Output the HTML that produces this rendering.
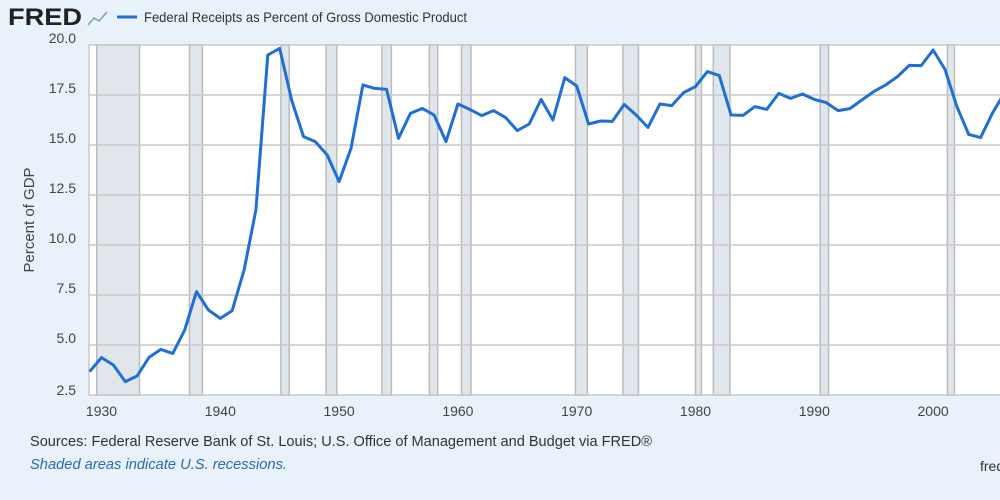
<!DOCTYPE html>
<html><head><meta charset="utf-8"><style>
body{margin:0;width:1000px;height:500px;overflow:hidden;background:#e9f1fa;font-family:"Liberation Sans Narrow","Liberation Sans",sans-serif;}
svg{position:absolute;left:0;top:0}
</style></head><body>
<svg width="1000" height="500">
<g id="rec"></g>
<g id="grid"></g>
<g id="axes"></g>
<path id="line" fill="none" stroke="#1e6fd6" stroke-width="3" stroke-linejoin="round"/>
<text x="8" y="25" font-family="Liberation Sans" font-weight="bold" font-size="24" fill="#222" textLength="74" lengthAdjust="spacingAndGlyphs">FRED</text>
<polyline points="88,25 94,18 99,21 107,12" fill="none" stroke="#7a9" stroke-width="1.5"/>
<line x1="117" y1="17" x2="137" y2="17" stroke="#1e6fd6" stroke-width="3"/>
<text x="144" y="22" font-size="14" fill="#333" textLength="323" lengthAdjust="spacingAndGlyphs">Federal Receipts as Percent of Gross Domestic Product</text>
<text transform="translate(34,220) rotate(-90)" text-anchor="middle" font-size="15" fill="#444">Percent of GDP</text>
<text x="30" y="446" font-size="15" fill="#333" textLength="622" lengthAdjust="spacingAndGlyphs">Sources: Federal Reserve Bank of St. Louis; U.S. Office of Management and Budget via FRED®</text>
<text x="30" y="469" font-size="15" font-style="italic" fill="#2a6bb5" textLength="257" lengthAdjust="spacingAndGlyphs">Shaded areas indicate U.S. recessions.</text>
<text x="980" y="471" font-size="14" fill="#333">fred</text>
</svg>
<script>
const years=[1929,1930,1931,1932,1933,1934,1935,1936,1937,1938,1939,1940,1941,1942,1943,1944,1945,1946,1947,1948,1949,1950,1951,1952,1953,1954,1955,1956,1957,1958,1959,1960,1961,1962,1963,1964,1965,1966,1967,1968,1969,1970,1971,1972,1973,1974,1975,1976,1977,1978,1979,1980,1981,1982,1983,1984,1985,1986,1987,1988,1989,1990,1991,1992,1993,1994,1995,1996,1997,1998,1999,2000,2001,2002,2003,2004,2005,2006];
const values=[3.67,4.37,4.0,3.17,3.45,4.38,4.78,4.58,5.75,7.67,6.75,6.33,6.72,8.75,11.75,19.5,19.83,17.25,15.42,15.17,14.5,13.17,14.83,18.0,17.83,17.78,15.33,16.58,16.83,16.5,15.17,17.05,16.78,16.47,16.72,16.38,15.72,16.05,17.28,16.25,18.37,17.95,16.05,16.2,16.18,17.03,16.5,15.88,17.05,16.97,17.62,17.92,18.67,18.47,16.5,16.48,16.92,16.78,17.58,17.33,17.55,17.28,17.12,16.72,16.82,17.25,17.67,18.0,18.42,18.98,18.97,19.75,18.78,16.92,15.53,15.37,16.6,17.6];
const recStart=[1929.6,1937.4,1945.1,1948.9,1953.6,1957.6,1960.3,1969.9,1973.9,1980.0,1981.5,1990.5,2001.2];
const recEnd=[1933.2,1938.5,1945.8,1949.8,1954.4,1958.3,1961.1,1970.9,1975.2,1980.5,1982.9,1991.2,2001.8];
const yTicks=[2.5,5.0,7.5,10.0,12.5,15.0,17.5,20.0];
const xTicks=[1930,1940,1950,1960,1970,1980,1990,2000];
const L=89,R=1000,T=45,B=395;
const xs=y=>101.5+(y-1930)*11.88;
const ys=v=>T+(20-v)*20;
const NS='http://www.w3.org/2000/svg';
function mk(tag,parent,attrs){const e=document.createElementNS(NS,tag);for(const k in attrs)e.setAttribute(k,attrs[k]);parent.appendChild(e);return e;}
const rec=document.getElementById('rec'),grid=document.getElementById('grid'),axes=document.getElementById('axes');
mk('rect',rec,{x:L,y:T,width:R-L,height:B-T,fill:'#fff'});
recStart.forEach((s,i)=>{const x1=Math.max(L,xs(s)),x2=xs(recEnd[i]);
const r=mk('rect',rec,{x:x1,y:T,width:x2-x1,height:B-T,fill:'#e1e6ec',stroke:'#bbb','stroke-width':1.5});

});
yTicks.forEach(v=>{mk('line',grid,{x1:L,x2:R,y1:ys(v),y2:ys(v),stroke:'#c8c8c8','stroke-width':1.5});
const t=mk('text',axes,{x:76,y:ys(v)+(v===2.5?0:-2),'text-anchor':'end','font-size':14,fill:'#444'});t.textContent=v.toFixed(1);

});
mk('line',grid,{x1:L,x2:L,y1:T,y2:B,stroke:'#c8c8c8','stroke-width':1.5});
xTicks.forEach(y=>{const t=mk('text',axes,{x:xs(y),y:416,'text-anchor':'middle','font-size':14,fill:'#444'});t.textContent=y;

});
document.getElementById('line').setAttribute('d',years.map((y,i)=>(i?'L':'M')+xs(y).toFixed(1)+','+ys(values[i]).toFixed(1)).join(''));
</script>
</body></html>
